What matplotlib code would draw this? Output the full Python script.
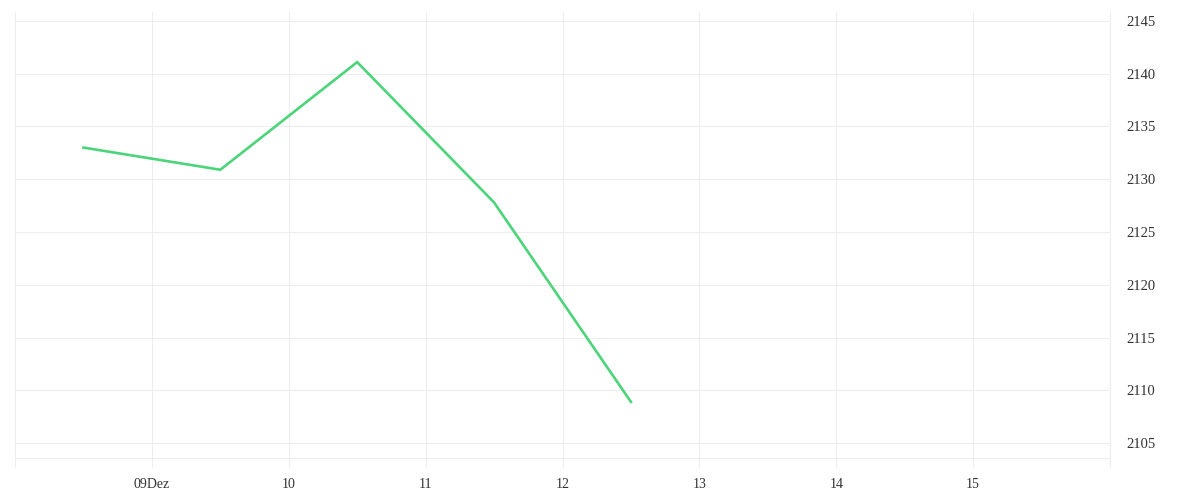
import numpy as np
import pandas as pd
import matplotlib
matplotlib.use("Agg")
import matplotlib.pyplot as plt
import matplotlib.dates as mdates

# Data
times = pd.to_datetime([
    "2023-12-08 12:00",
    "2023-12-09 12:00",
    "2023-12-10 12:00",
    "2023-12-11 12:00",
    "2023-12-12 12:00",
])
values = [2133.0, 2130.9, 2141.1, 2127.8, 2108.9]

tick_days = pd.date_range("2023-12-08", "2023-12-16", freq="D")
tick_labels = ["", "09Dez", "10", "11", "12", "13", "14", "15", ""]
y_ticks = [2105, 2110, 2115, 2120, 2125, 2130, 2135, 2140, 2145]

plt.rcParams["font.family"] = ["Liberation Serif", "DejaVu Serif"]
grid_color = "#ededed"
text_color = "#333333"

fig = plt.figure(figsize=(12, 5), dpi=100)
ax = fig.add_axes([0.0125, 0.084, 0.9125, 0.892])

ax.plot(times, values, color="#4cd47a", linewidth=1.9, solid_joinstyle="miter")

ax.set_xlim(tick_days[0], tick_days[-1])
ax.set_ylim(2103.58, 2145.85)

ax.set_xticks(tick_days)
ax.set_xticklabels(tick_labels)
ax.set_yticks(y_ticks)
ax.set_yticklabels([str(v) for v in y_ticks])

ax.yaxis.tick_right()
ax.grid(True, color=grid_color, linewidth=0.8)
ax.set_axisbelow(True)

for side in ["top", "left", "right"]:
    ax.spines[side].set_visible(False)
ax.spines["bottom"].set_color(grid_color)
ax.spines["bottom"].set_linewidth(0.8)
ax.axvline(tick_days[-1], color=grid_color, linewidth=0.8, clip_on=False)

ax.tick_params(axis="x", direction="out", length=6.5, width=0.8,
               color=grid_color, pad=8, labelsize=10, labelcolor=text_color)
ax.tick_params(axis="y", length=0, pad=12, labelsize=10.5, labelcolor=text_color)
for lbl in ax.get_yticklabels():
    lbl.set_horizontalalignment("left")
    lbl.set_verticalalignment("center_baseline")

fig.savefig("out.png", dpi=100, facecolor="white")
